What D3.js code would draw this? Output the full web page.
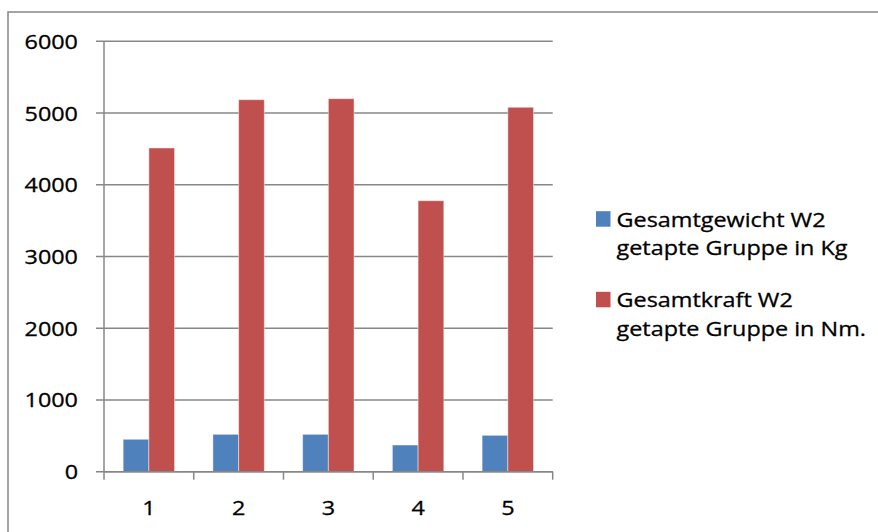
<!DOCTYPE html>
<html>
<head>
<meta charset="utf-8">
<script src="https://cdn.jsdelivr.net/npm/d3@7"></script>
<style>
  html, body { margin: 0; padding: 0; background: #fff; }
  svg { display: block; }
  text { font-family: "Open Sans", "Noto Sans", sans-serif; fill: #000; stroke: #000; stroke-width: 0.3; }
</style>
</head>
<body>
<svg id="chart" width="878" height="532"></svg>
<script>
// Categories along the x axis
const categories = ["1", "2", "3", "4", "5"];
// Series names (legend, two lines each)
const seriesNames = [
  ["Gesamtgewicht W2", "getapte Gruppe in Kg"],
  ["Gesamtkraft W2", "getapte Gruppe in Nm."]
];
const seriesColors = ["#4F81BD", "#C0504D"];
// Values per series
const weightKg = [452, 521, 521, 372, 507];
const forceNm = [4513, 5186, 5200, 3778, 5080];
// Y axis ticks
const yTicks = [0, 1000, 2000, 3000, 4000, 5000, 6000];

const series = [weightKg, forceNm];
const svg = d3.select("#chart");
const gridColor = "#878787";
const stretch = 1.17;   // wide text face
const fontSize = 20;

// Outer frame (open to the right and bottom)
svg.append("path")
  .attr("d", "M8,540 L8,12 L880,12")
  .attr("fill", "none")
  .attr("stroke", gridColor)
  .attr("stroke-width", 1.5);

const plot = { left: 104, right: 552.7, top: 41.3, bottom: 471.7 };

const y = d3.scaleLinear().domain([0, 6000]).range([plot.bottom, plot.top]);
const x = d3.scaleBand().domain(categories).range([plot.left, plot.right]).padding(0);
const x1 = d3.scaleBand().domain(d3.range(series.length))
  .range([0, x.bandwidth()]).paddingInner(0).paddingOuter(0.745);

// Horizontal gridlines with small left ticks
svg.append("g").selectAll("line").data(yTicks).join("line")
  .attr("x1", plot.left - 8).attr("x2", plot.right)
  .attr("y1", d => y(d)).attr("y2", d => y(d))
  .attr("stroke", gridColor).attr("stroke-width", 1.5);

// Helper for horizontally widened text
function wideText(parent, tx, ty, str, anchor) {
  const g = parent.append("g").attr("transform", `translate(${tx},${ty}) scale(${stretch},1)`);
  g.append("text").attr("text-anchor", anchor).attr("font-size", fontSize).text(str);
  return g;
}

// Y tick labels
yTicks.forEach(t => wideText(svg, 78, y(t) + 7.5, String(t), "end"));

// Bars
categories.forEach((c, i) => {
  series.forEach((vals, s) => {
    svg.append("rect")
      .attr("x", x(c) + x1(s))
      .attr("y", y(vals[i]))
      .attr("width", x1.bandwidth())
      .attr("height", y(0) - y(vals[i]))
      .attr("fill", seriesColors[s])
      .attr("stroke", "rgba(255,255,255,0.45)")
      .attr("stroke-width", 1);
  });
});

// Vertical axis line
svg.append("line")
  .attr("x1", plot.left).attr("x2", plot.left)
  .attr("y1", plot.top).attr("y2", plot.bottom)
  .attr("stroke", gridColor).attr("stroke-width", 1.5);

// X axis with downward ticks at category boundaries
const xAxis = d3.axisBottom(x).tickSize(0).tickFormat("");
const ax = svg.append("g").attr("transform", `translate(0,${plot.bottom})`).call(xAxis);
ax.select(".domain").remove();
const bounds = categories.map(c => x(c)).concat([plot.right]);
svg.append("g").selectAll("line").data(bounds).join("line")
  .attr("x1", d => d).attr("x2", d => d)
  .attr("y1", plot.bottom).attr("y2", plot.bottom + 8)
  .attr("stroke", gridColor).attr("stroke-width", 1.5);
svg.append("line")
  .attr("x1", plot.left).attr("x2", plot.right)
  .attr("y1", plot.bottom).attr("y2", plot.bottom)
  .attr("stroke", gridColor).attr("stroke-width", 1.5);

// X tick labels
categories.forEach(c => wideText(svg, x(c) + x.bandwidth() / 2, 515, c, "middle"));

// Legend
const legendTop = [226.7, 307.3];
seriesNames.forEach((lines, s) => {
  svg.append("rect")
    .attr("x", 596).attr("y", legendTop[s] - 15.5)
    .attr("width", 14.5).attr("height", 15.5)
    .attr("fill", seriesColors[s]);
  lines.forEach((ln, k) => wideText(svg, 616.5, legendTop[s] + k * 28.2, ln, "start"));
});
</script>
</body>
</html>
